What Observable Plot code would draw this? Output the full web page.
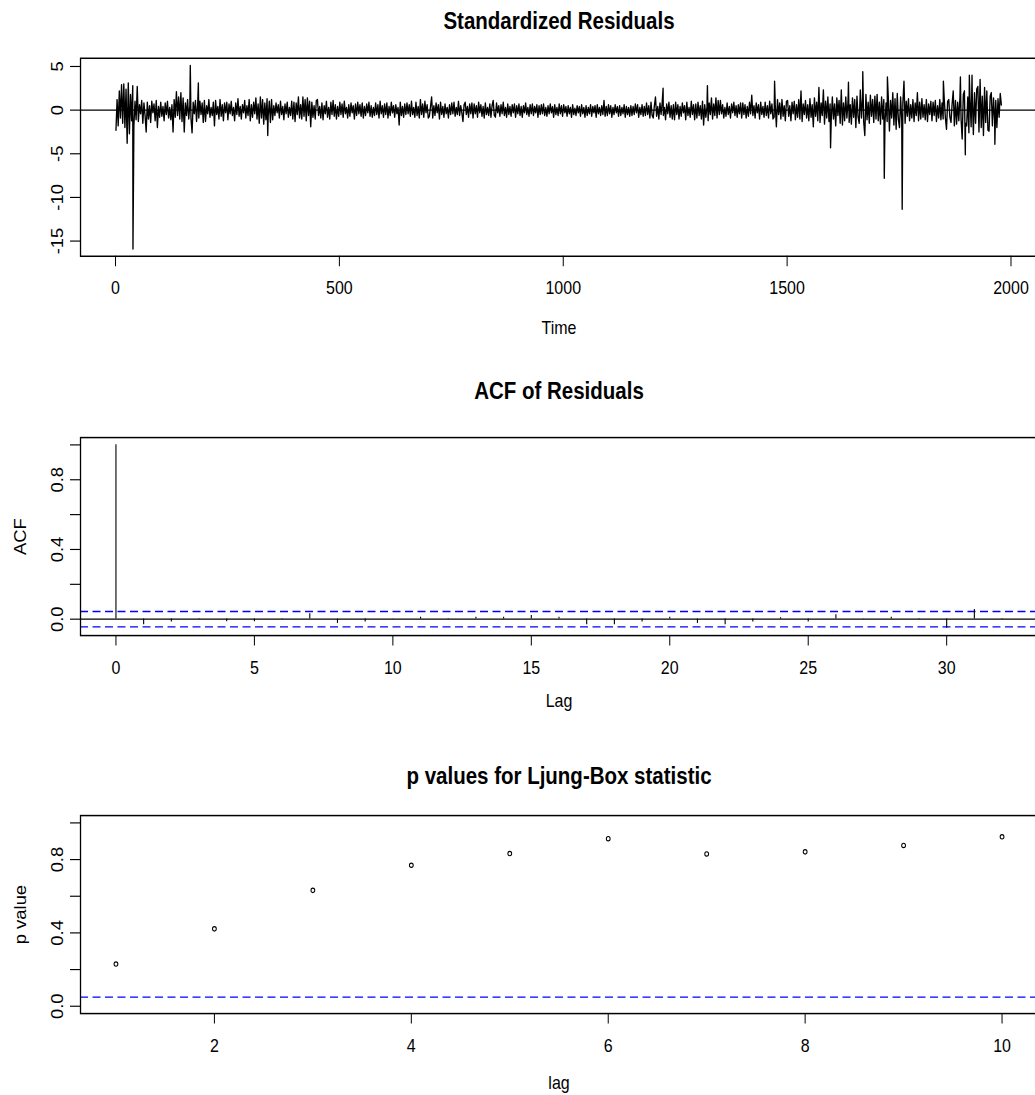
<!DOCTYPE html>
<html>
<head>
<meta charset="utf-8">
<script src="https://cdn.jsdelivr.net/npm/d3@7"></script>
<script src="https://cdn.jsdelivr.net/npm/@observablehq/plot@0.6"></script>
<style>
  html, body { margin: 0; padding: 0; background: #ffffff; }
  body { width: 1035px; height: 1095px; overflow: hidden; position: relative;
         font-family: "Liberation Sans", Arial, Helvetica, sans-serif; }
  .panel { position: absolute; left: 0; width: 1040px; transform-origin: 0 0; }
  .panel svg { max-width: none !important; }
</style>
</head>
<body>
<script>
// ---------------- data ----------------
// standardized residuals, read every 2.5 time steps (t = 1, 3.5, 6, ...), one row = 50 time units
const residualStart = 1;
const residualStep = 2.5;
const residualValues = [
  -2.3, 1.2, -1.8, 2.2, -0.9, 2.9, -1.5, 3.0, -2.0, 2.4, -3.8, 3.1, -2.7, 1.8, -1.2, 2.8, -1.9, 1.0, -1.1, 2.7,
  -1.3, 0.6, -0.4, 1.1, -1.5, 0.8, -0.6, -2.5, 0.9, -1.0, 0.5, -1.4, 1.0, -0.3, 0.7, -1.2, 1.1, -2.0, 0.4, -0.8,
  0.9, -0.7, 0.4, -1.2, 0.8, -0.5, 1.0, -0.9, 0.3, -1.1, 0.6, -2.5, 1.2, -0.8, 2.1, -0.6, 1.5, -1.0, 2.0, -1.3,
  1.4, -2.5, 0.8, -0.6, 1.2, -1.0, 0.5, -0.9, -2.6, 0.9, -0.4, 1.1, -1.3, 0.7, -0.9, 1.0, -0.5, 0.8, -1.4, 1.1,
  -1.3, 0.5, -0.4, 1.2, -0.8, 0.3, -0.6, 0.9, -1.8, 1.1, -0.5, 0.4, -1.0, 1.2, -0.7, 0.6, -1.2, 0.8, -0.3, 0.9,
  -1.1, 0.7, -0.4, 1.0, -0.6, 0.3, -1.2, 0.8, -0.5, 1.3, -0.7, 0.4, -1.0, 0.6, -0.3, 1.1, -0.9, 0.5, -0.6, 1.2,
  -1.2, 0.6, -0.8, 0.9, -0.4, 1.4, -1.0, 0.7, -1.5, 1.5, -0.9, 1.2, -1.6, 0.8, -1.1, 1.3, -0.7, 1.0, -1.4, 1.2,
  -1.1, 0.5, -0.6, 0.8, -0.3, 0.6, -0.9, 1.0, -0.5, 0.4, -1.1, 0.7, -0.4, 0.9, -0.8, 0.3, -0.6, 1.0, -1.0, 0.9,
  -1.3, 0.8, -0.5, 1.5, -0.9, 0.6, -1.0, 1.5, -0.7, 1.2, -1.2, 1.4, -0.6, 1.0, -1.9, 0.9, -0.8, 0.5, -1.0, 1.1,
  1.2, -0.6, 0.4, -0.9, 0.8, -1.1, 0.5, -0.4, 1.0, -0.8, 0.3, -1.0, 0.9, -0.5, 1.1, -0.7, 0.6, -1.0, 0.4, -0.7,
  0.9, -0.5, 0.7, -0.8, 1.0, -0.4, 0.3, -0.9, 0.6, -0.7, 0.8, -0.3, 0.5, -1.0, 0.7, -0.6, 0.9, -0.4, 0.6, -0.7,
  0.8, -0.9, 0.4, -0.6, 0.7, -0.3, 0.9, -0.7, 0.5, -0.8, 0.3, -0.6, 0.8, -0.5, 0.6, -0.9, 1.0, -0.4, 0.5, -0.8,
  0.7, -0.5, 0.8, -0.9, 0.4, -0.6, 0.9, -0.3, 0.5, -0.8, 0.6, -0.4, 0.3, -1.7, 0.9, -0.6, 0.4, -0.8, 0.7, -0.5,
  0.8, -0.4, 0.6, -0.7, 1.0, -0.5, 0.3, -0.8, 0.9, -0.6, 0.4, -0.9, 1.2, -0.5, 0.7, -0.8, 1.0, -0.3, 0.6, -0.9,
  -0.7, 0.4, 1.5, -0.9, 0.5, -0.6, 0.8, -0.3, 0.6, -1.0, 0.9, -0.5, 0.4, -0.8, 0.7, -0.4, 0.3, -0.9, 0.6, -0.5,
  0.8, -0.4, 0.9, -0.7, 0.3, -0.5, 1.0, -0.6, 0.5, -0.3, -1.3, 0.6, 0.9, -0.5, 0.4, -0.8, 0.7, -0.4, 0.8, -0.9,
  0.7, -0.4, 0.5, -0.8, 0.9, -0.3, 0.6, -0.7, 0.4, -0.9, 0.8, -0.5, 0.3, -0.6, 0.7, -0.8, 0.5, 1.1, -0.6, -0.8,
  0.8, -0.3, 0.5, -0.7, 0.6, -0.4, 0.9, -0.6, 0.3, -0.8, 0.7, -0.5, 0.4, -0.7, 0.6, -0.3, 0.7, -0.8, 0.5, -0.4,
  0.7, -0.6, 0.4, -0.8, 0.5, -0.3, 0.8, -0.5, 0.3, -0.7, 0.6, -0.4, 0.7, -0.6, 0.4, -0.3, 0.6, -0.8, 0.5, -0.5,
  0.6, -0.4, 0.7, -0.6, 0.3, -0.7, 0.5, -0.4, 0.7, -0.3, 0.4, -0.8, 0.6, -0.5, 0.3, -0.6, 0.7, -0.4, 0.5, -0.7,
  0.6, -0.3, 0.4, -0.7, 0.5, -0.4, 0.3, -0.8, 0.6, -0.5, 0.2, -0.6, 0.5, -0.3, 0.4, -0.7, 0.6, -0.4, 0.3, -0.8,
  0.5, -0.6, 0.3, -0.4, 0.6, -0.7, 0.4, -0.3, 0.5, -0.8, 0.6, -0.4, 0.3, -0.6, 0.5, -0.5, 1.1, -0.7, 0.4, -0.6,
  0.6, -0.4, 0.5, -0.8, 0.3, -0.5, 0.6, -0.3, 0.4, -0.7, 0.5, -0.6, 0.3, -0.4, 0.6, -0.8, 0.4, -0.5, 0.3, -0.7,
  0.5, -0.6, 0.4, -0.5, 0.7, -0.3, 0.6, -0.8, 0.3, -0.5, 0.6, -0.7, 0.4, -0.6, 0.8, -0.5, 0.5, -0.9, 0.9, -0.6,
  -0.9, 0.5, 1.5, -0.7, 0.4, -1.0, 0.8, -0.5, 0.9, -0.6, 0.3, -1.1, 0.7, -0.4, 0.9, -0.8, 0.5, -1.0, 0.6, -1.1,
  0.9, -0.5, 0.6, -1.0, 0.4, -0.7, 0.8, -0.3, 0.5, -1.1, 0.9, -0.6, 0.3, -0.8, 1.0, -0.5, 0.6, -1.1, 0.7, -0.9,
  0.9, -0.6, 0.5, -1.0, 1.0, -1.7, 0.6, -0.8, 0.4, -1.2, 0.8, -0.5, 1.4, -1.0, 0.7, -0.6, 1.4, -0.9, 1.1, -0.5,
  1.1, -0.4, 0.6, -0.9, 0.3, -0.7, 0.8, -0.5, 0.4, -0.9, 0.7, -0.3, 0.9, -0.6, 0.5, -0.8, 0.6, -0.4, 0.8, -0.9,
  0.8, -0.5, 0.6, -0.9, 0.4, -0.7, 0.9, -0.4, 1.7, -0.6, 0.5, -0.9, 0.8, -0.3, 0.6, -1.0, 0.9, -0.5, 0.4, -0.8,
  0.9, -0.6, 0.5, -0.9, 1.0, -0.4, 0.7, -1.0, -0.8, 0.6, -1.9, 1.2, -0.5, 0.8, -1.0, 1.2, -0.7, 0.5, -1.2, 1.0,
  1.1, -0.7, 0.5, -1.2, 0.9, -0.4, 1.0, -1.1, 0.6, -0.8, 1.2, -1.0, 2.2, -1.3, 0.7, -0.5, 1.1, -0.9, 0.6, -1.2,
  1.3, -0.8, 0.6, -1.9, 1.4, -0.7, 0.9, -1.2, 2.6, -1.4, 0.8, -0.6, 2.3, -1.6, 1.0, -0.9, 1.5, -1.3, 0.7, -1.2,
  1.5, -1.0, 0.7, -1.8, 1.4, -0.6, 1.1, -1.5, 2.3, -1.7, 0.8, -1.2, 1.5, -0.9, 1.0, -1.4, 0.6, -1.6, 1.4, -0.8,
  1.2, -2.0, 1.6, -0.8, -1.5, 2.3, -0.9, 1.4, -1.3, -2.9, 1.8, -1.1, 0.9, -1.5, 1.7, -0.7, 1.2, -1.4, 1.6, -1.0,
  1.8, -1.2, 0.9, -1.6, 1.5, -1.0, 1.2, -1.5, 0.8, -1.3, 1.4, -2.4, 1.1, -0.9, 2.0, -1.7, 1.3, -2.2, 1.9, -1.1,
  -2.0, 1.5, -1.2, 0.8, 3.3, -1.5, 1.0, -0.7, 1.3, -1.2, 0.6, -0.9, 1.2, -1.3, 0.8, -0.6, 2.0, -1.2, 0.9, -1.0,
  1.3, -0.8, 0.6, -1.1, 1.2, -1.3, 0.7, -0.5, 1.0, -1.2, 0.9, -0.6, 1.1, -1.3, 0.5, -0.9, 1.2, -1.1, 0.8, -1.0,
  1.2, -0.9, -2.2, 1.0, 1.2, -0.8, -1.4, 0.7, 2.2, -1.8, 1.1, -1.6, 0.9, -1.2, 1.5, -1.0, -3.3, 1.8, 2.2, -1.5,
  -1.8, 1.5, -2.6, 1.2, -1.9, 1.8, -2.8, 2.0, -1.5, 2.4, 2.7, -2.5, 3.5, -2.0, 1.6, -2.9, 2.6, -1.4, 2.2, -2.3,
  -2.4, 1.6, 2.0, -1.8, 1.4, -1.2, 1.1, -2.0, 1.3, -0.8, 1.9, 0.6
];
// isolated single-step spikes: [time, value]
const residualSpikes = [
  [39, -15.9], [167, 5.1], [185, 3.1], [340, -2.9], [1223, 2.5], [1322, 2.8],
  [1472, 3.3], [1597, -4.3], [1637, 3.2], [1669, 4.4], [1717, -7.8], [1724, 3.8],
  [1757, -11.35], [1849, 3.3], [1887, 3.8], [1898, -5.1], [1907, 4.0], [1913, 4.0],
  [1964, -3.9]
];
const residualSeriesLength = 1980;
const residualXTicks = [0, 500, 1000, 1500, 2000];
const residualYTicks = [-15, -10, -5, 0, 5];

// ACF of residuals, lags 0..32
const acfLags = [0, 1, 2, 3, 4, 5, 6, 7, 8, 9, 10, 11, 12, 13, 14, 15, 16,
                 17, 18, 19, 20, 21, 22, 23, 24, 25, 26, 27, 28, 29, 30, 31, 32];
const acfValues = [1, -0.032, -0.017, 0.003, -0.015, -0.015, 0.004, 0.030, -0.025, -0.017,
                   0.002, 0.011, 0.003, 0.011, 0.011, 0.021, 0.011, -0.032, -0.032, -0.017,
                   0.011, -0.025, -0.032, -0.017, 0.008, -0.017, 0.025, 0.002, 0.011, 0.003,
                   -0.052, 0.055, 0.003];
const acfConfLimit = 0.044;
const acfXTicks = [0, 5, 10, 15, 20, 25, 30];
const unitYTicks = [0, 0.2, 0.4, 0.6, 0.8, 1.0];
const unitYLabels = [0, 0.4, 0.8];

// Ljung-Box p values
const lbLags = [1, 2, 3, 4, 5, 6, 7, 8, 9, 10];
const lbPValues = [0.230, 0.422, 0.632, 0.769, 0.833, 0.914, 0.831, 0.842, 0.877, 0.924];
const lbThreshold = 0.05;
const lbXTicks = [2, 4, 6, 8, 10];

// ---------------- layout ----------------
const S = 1.15;                 // vertical stretch of the reference picture
const W = 1040, ML = 80, MR = 3;
const FRAME_H = 198, BOTTOM_GAP = 96;
const FONT = '"Liberation Sans", Arial, Helvetica, sans-serif';
const ext = ([a, b]) => { const d = (b - a) * 0.04; return [a - d, b + d]; };

function panel({frameTop, topGap, titleDy, xlabelDy, title, xlabel, ylabel, xDomain, yDomain,
                xTicks, yTicks, yLabels, yFmt, marks}) {
  const mt = topGap / S, fh = FRAME_H / S, mb = BOTTOM_GAP / S;
  const H = mt + fh + mb;
  const svg = Plot.plot({
    width: W, height: H,
    marginLeft: ML, marginRight: MR, marginTop: mt, marginBottom: mb,
    style: {fontFamily: FONT, background: "transparent", color: "black", maxWidth: "none"},
    x: {domain: xDomain, axis: null},
    y: {domain: yDomain, axis: null},
    marks: [
      ...marks,
      Plot.frame({stroke: "black", strokeWidth: 1.3}),
      Plot.axisX(xTicks, {anchor: "bottom", label: null, tickSize: 10.5 / S, tickPadding: 12.6,
                          fontSize: 16, tickFormat: d => String(d), stroke: "black"}),
      Plot.axisY(yTicks, {anchor: "left", label: null, tickSize: 10, tickFormat: () => null, stroke: "black"}),
      Plot.text(yLabels, {y: d => d, text: yFmt, frameAnchor: "left", dx: -18, rotate: -90,
                          textAnchor: "middle", lineAnchor: "bottom", fontSize: 16, fill: "black"}),
      Plot.text([title], {frameAnchor: "top", dy: titleDy / S, lineAnchor: "bottom",
                          fontWeight: "bold", fontSize: 20.5, fill: "black"}),
      Plot.text([xlabel], {frameAnchor: "bottom", dy: xlabelDy / S, lineAnchor: "bottom",
                           fontSize: 16, fill: "black"}),
      ylabel ? Plot.text([ylabel], {frameAnchor: "left", dx: -55, rotate: -90, textAnchor: "middle",
                           lineAnchor: "bottom", fontSize: 16, fill: "black"}) : null
    ]
  });
  const div = document.createElement("div");
  div.className = "panel";
  div.style.top = (frameTop - topGap) + "px";
  div.style.transform = `scaleY(${S})`;
  div.appendChild(svg);
  document.body.appendChild(div);
}

// panel 1: standardized residuals
const residuals = residualValues
  .map((v, i) => ({t: residualStart + i * residualStep, v}))
  .concat(residualSpikes.map(([t, v]) => ({t, v})))
  .sort((a, b) => a.t - b.t);
const allResidualValues = residuals.map(d => d.v);
panel({
  frameTop: 57.7, topGap: 57.7, titleDy: -29.4, xlabelDy: 78,
  title: "Standardized Residuals", xlabel: "Time", ylabel: null,
  xDomain: ext([1, residualSeriesLength]),
  yDomain: ext(d3.extent(allResidualValues)),
  xTicks: residualXTicks, yTicks: residualYTicks, yLabels: residualYTicks, yFmt: d => String(d),
  marks: [
    Plot.line(residuals, {x: "t", y: "v", stroke: "black", strokeWidth: 1.35}),
    Plot.ruleY([0], {stroke: "black", strokeWidth: 1})
  ]
});

// panel 2: ACF of residuals
const acf = acfLags.map((lag, i) => ({lag, acf: acfValues[i]}));
panel({
  frameTop: 437.3, topGap: 70, titleDy: -39, xlabelDy: 71,
  title: "ACF of Residuals", xlabel: "Lag", ylabel: "ACF",
  xDomain: ext(d3.extent(acfLags)),
  yDomain: ext([Math.min(-acfConfLimit, d3.min(acfValues)), Math.max(acfConfLimit, d3.max(acfValues))]),
  xTicks: acfXTicks, yTicks: unitYTicks, yLabels: unitYLabels, yFmt: d => d.toFixed(1),
  marks: [
    Plot.ruleY([-acfConfLimit, acfConfLimit], {stroke: "#0000ff", strokeWidth: 1.2, strokeDasharray: "8,4.5"}),
    Plot.ruleY([0], {stroke: "black", strokeWidth: 1}),
    Plot.ruleX(acf, {x: "lag", y1: 0, y2: "acf", stroke: "black", strokeWidth: 1.1})
  ]
});

// panel 3: Ljung-Box p values
const lb = lbLags.map((lag, i) => ({lag, p: lbPValues[i]}));
panel({
  frameTop: 815.3, topGap: 70, titleDy: -32, xlabelDy: 75,
  title: "p values for Ljung-Box statistic", xlabel: "lag", ylabel: "p value",
  xDomain: ext(d3.extent(lbLags)),
  yDomain: ext([0, 1]),
  xTicks: lbXTicks, yTicks: unitYTicks, yLabels: unitYLabels, yFmt: d => d.toFixed(1),
  marks: [
    Plot.ruleY([lbThreshold], {stroke: "#0000ff", strokeWidth: 1.2, strokeDasharray: "8,4.5"}),
    Plot.dot(lb, {x: "lag", y: "p", r: 1.9, stroke: "black", strokeWidth: 1, fill: "none"})
  ]
});
</script>
</body>
</html>
